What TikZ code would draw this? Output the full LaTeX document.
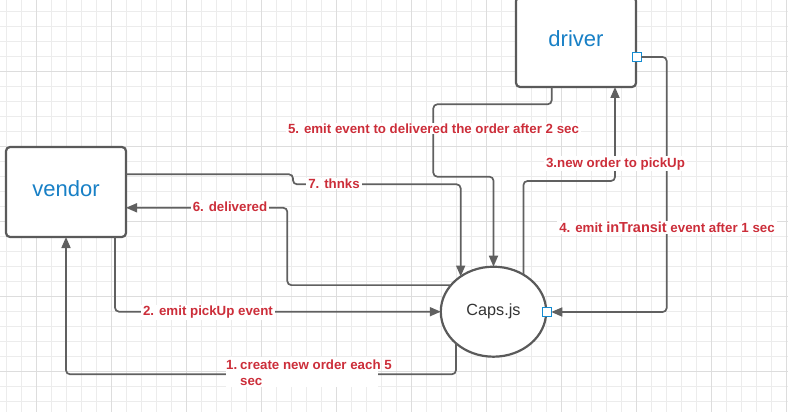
\documentclass[tikz,border=0pt]{standalone}
\usepackage{fontspec}
\setmainfont{Liberation Sans}
\usetikzlibrary{arrows.meta,shapes.geometric}
\definecolor{gridminor}{RGB}{236,236,236}
\definecolor{gridmajor}{RGB}{221,221,221}
\definecolor{linec}{RGB}{96,96,96}
\definecolor{boxc}{RGB}{90,90,90}
\definecolor{nameblue}{RGB}{24,128,198}
\definecolor{lblred}{RGB}{204,46,58}
\definecolor{portblue}{RGB}{20,140,210}
\definecolor{capsc}{RGB}{51,51,51}
\begin{document}
\begin{tikzpicture}[x=1pt,y=-1pt,
 box/.style={draw=boxc, line width=2.2pt, rounded corners=4pt, fill=white, minimum width=120pt, minimum height=90pt, text=nameblue, font=\fontsize{22}{26}\selectfont, inner sep=0pt, outer sep=0pt, text depth=6.6pt},
 capsnode/.style={ellipse, draw=boxc, line width=2.2pt, fill=white, minimum width=105.4pt, minimum height=90pt, text=capsc, font=\fontsize{16.2}{19}\selectfont, inner sep=0pt, outer sep=0pt},
 port/.style={draw=portblue, line width=1.2pt, fill=white, minimum size=8.5pt, inner sep=0pt, outer sep=0pt},
 conn/.style={draw=linec, line width=1.7pt, rounded corners=4pt},
 arr/.style={-{Triangle[length=11pt,width=9pt]}},
 lbl/.style={fill=white, text=lblred, font=\bfseries\fontsize{13.3}{15}\selectfont, inner xsep=2pt, inner ysep=1pt, anchor=base},
 txt/.style={text=lblred, font=\bfseries\fontsize{13.3}{15}\selectfont, inner sep=0pt, anchor=base west},
 lblbg/.style={fill=white, minimum width=152pt, minimum height=30pt, inner sep=0pt},
]
\useasboundingbox (0,0) rectangle (788,412);
\clip (0,0) rectangle (788,412);
\fill[white] (0,0) rectangle (788,412);
% grid
\foreach \i in {0,...,52} \draw[gridminor, line width=1pt] (6.7+15*\i,0) -- (6.7+15*\i,412);
\foreach \j in {0,...,27} \draw[gridminor, line width=1pt] (0,11.7+15*\j) -- (788,11.7+15*\j);
\foreach \i in {0,...,10} \draw[gridmajor, line width=1pt] (36.7+75*\i,0) -- (36.7+75*\i,412);
\foreach \j in {0,...,4} \draw[gridmajor, line width=1pt] (0,71.7+75*\j) -- (788,71.7+75*\j);

% nodes
\node[box] (vendor) at (66,192) {vendor};
\node[box] (driver) at (576,42) {driver};
\node[capsnode] (caps) at (493.5,311.7) {Caps.js};

% routing coordinates
\coordinate (c1) at (66,374.3);
\coordinate (c3) at (615,181);
\coordinate (c4) at (666.7,57);
\coordinate (c5a) at (433.3,104.3);
\coordinate (c5b) at (493.5,176.7);
\coordinate (c6) at (287.3,207.8);
\coordinate (c7) at (293,184.3);

% connectors
\draw[conn,arr] (caps.-140) |- (c1) -- (vendor.south);
\draw[conn,arr] ([xshift=-11pt]vendor.south east) |- (caps.west);
\draw[conn,arr] (caps.51.4) |- (c3) -- ([xshift=-21pt]driver.south east);
\draw[conn,arr] ([xshift=35.7pt]driver.south west) |- (c5a) |- (c5b) -- (caps.north);
\draw[conn,arr] (caps.148.5) -| (c6) -- (vendor.east |- c6);
\draw[conn,arr] ([yshift=17.7pt]vendor.east) -| (c7) -| (caps.133.7);

\node[port] (dport) at (637,57) {};
\node[port] (cport) at (547,312) {};
\draw[conn,arr] (dport.east) -- (c4) |- (cport.east);

% labels
\node[lblbg] (l1bg) at (302,372) {};
\node[txt] (l1n) at (226,369) {1.};
\node[txt] (l1a) at (240,369) {create new order each 5};
\node[txt] (l1b) at (240,385) {sec};
\node[lbl] (l2) at (208,315.8) {2. emit pickUp event};
\node[lbl] (l3) at (615.5,167) {3.new order to pickUp};
\node[lbl] (l4) at (667,232.7) {4. emit {\fontsize{14.5}{16}\selectfont inTransit} event after 1 sec};
\node[lbl] (l5) at (433.5,133.3) {5. emit event to delivered the order after 2 sec};
\node[lbl] (l6) at (230,211) {6. delivered};
\node[lbl] (l7) at (334,188.3) {7. thnks};
\end{tikzpicture}
\end{document}
